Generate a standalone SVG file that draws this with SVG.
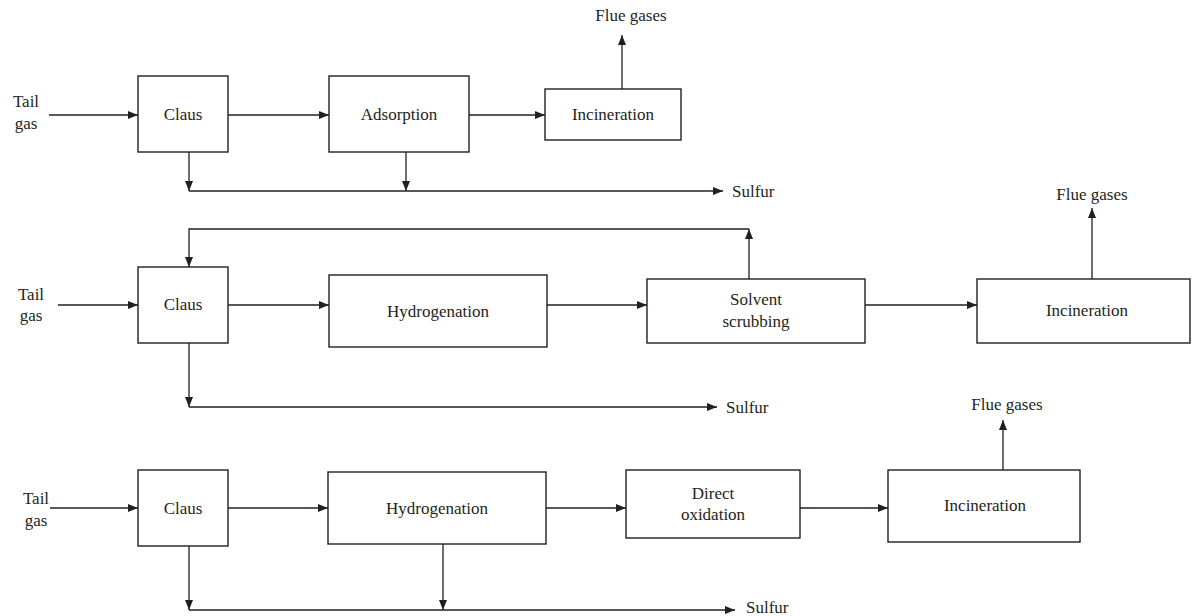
<svg xmlns="http://www.w3.org/2000/svg" width="1192" height="616" viewBox="0 0 1192 616">
<defs>
<style>
.box{fill:#fff;stroke:#231f20;stroke-width:1.4}
.ln{fill:none;stroke:#231f20;stroke-width:1.3}
.arr{marker-end:url(#ah)}
text{font-family:"Liberation Serif","Times New Roman",serif;font-size:17px;fill:#231f20}
.c{text-anchor:middle}
</style>
<marker id="ah" markerWidth="11" markerHeight="9" refX="10" refY="4" orient="auto" markerUnits="userSpaceOnUse">
<path d="M0,0 L10,4 L0,8 z" fill="#231f20"/>
</marker>
</defs>
<rect width="1192" height="616" fill="#fff"/>

<g id="connectors">
<!-- Row 1 -->
<line class="ln arr" x1="49" y1="115" x2="138" y2="115"/>
<line class="ln arr" x1="228" y1="115" x2="329" y2="115"/>
<line class="ln arr" x1="469" y1="115" x2="545" y2="115"/>
<line class="ln arr" x1="622" y1="89" x2="622" y2="35"/>
<line class="ln arr" x1="189" y1="152" x2="189" y2="191"/>
<line class="ln arr" x1="406" y1="152" x2="406" y2="191"/>
<line class="ln arr" x1="189" y1="191" x2="723" y2="191"/>
<!-- Row 2 -->
<line class="ln arr" x1="58" y1="305" x2="138" y2="305"/>
<line class="ln arr" x1="228" y1="305" x2="329" y2="305"/>
<line class="ln arr" x1="547" y1="305" x2="647" y2="305"/>
<line class="ln arr" x1="865" y1="305" x2="977" y2="305"/>
<line class="ln arr" x1="1092" y1="279" x2="1092" y2="208"/>
<line class="ln arr" x1="749" y1="279" x2="749" y2="229"/>
<polyline class="ln arr" points="749,229 189,229 189,267"/>
<line class="ln arr" x1="189" y1="343" x2="189" y2="407"/>
<line class="ln arr" x1="189" y1="407" x2="717" y2="407"/>
<!-- Row 3 -->
<line class="ln arr" x1="50" y1="508" x2="138" y2="508"/>
<line class="ln arr" x1="228" y1="508" x2="328" y2="508"/>
<line class="ln arr" x1="546" y1="508" x2="626" y2="508"/>
<line class="ln arr" x1="800" y1="508" x2="888" y2="508"/>
<line class="ln arr" x1="1003" y1="470" x2="1003" y2="420"/>
<line class="ln arr" x1="189" y1="546" x2="189" y2="610"/>
<line class="ln arr" x1="443" y1="544" x2="443" y2="610"/>
<line class="ln arr" x1="189" y1="610" x2="735" y2="610"/>
</g>

<g id="labels">
<text class="c" x="26" y="107">Tail</text>
<text class="c" x="26" y="129">gas</text>
<text class="c" x="631" y="21">Flue gases</text>
<text x="732" y="197">Sulfur</text>
<text class="c" x="31" y="300">Tail</text>
<text class="c" x="31" y="321">gas</text>
<text class="c" x="1092" y="200">Flue gases</text>
<text x="726" y="413">Sulfur</text>
<text class="c" x="36" y="504">Tail</text>
<text class="c" x="36" y="526">gas</text>
<text class="c" x="1007" y="410">Flue gases</text>
<text x="746" y="613">Sulfur</text>
</g>

<g id="claus1"><rect class="box" x="138" y="76" width="90" height="76"/><text class="c" x="183" y="120">Claus</text></g>
<g id="adsorption1"><rect class="box" x="329" y="76" width="140" height="76"/><text class="c" x="399" y="120">Adsorption</text></g>
<g id="incineration1"><rect class="box" x="545" y="89" width="136" height="51"/><text class="c" x="613" y="120">Incineration</text></g>

<g id="claus2"><rect class="box" x="138" y="267" width="90" height="76"/><text class="c" x="183" y="310">Claus</text></g>
<g id="hydrogenation2"><rect class="box" x="329" y="275" width="218" height="72"/><text class="c" x="438" y="317">Hydrogenation</text></g>
<g id="solvent2"><rect class="box" x="647" y="279" width="218" height="64"/><text class="c" x="756" y="305">Solvent</text><text class="c" x="756" y="327">scrubbing</text></g>
<g id="incineration2"><rect class="box" x="977" y="279" width="213" height="64"/><text class="c" x="1087" y="316">Incineration</text></g>

<g id="claus3"><rect class="box" x="138" y="470" width="90" height="76"/><text class="c" x="183" y="514">Claus</text></g>
<g id="hydrogenation3"><rect class="box" x="328" y="472" width="218" height="72"/><text class="c" x="437" y="514">Hydrogenation</text></g>
<g id="direct3"><rect class="box" x="626" y="470" width="174" height="68"/><text class="c" x="713" y="499">Direct</text><text class="c" x="713" y="520">oxidation</text></g>
<g id="incineration3"><rect class="box" x="888" y="470" width="192" height="72"/><text class="c" x="985" y="511">Incineration</text></g>
</svg>
